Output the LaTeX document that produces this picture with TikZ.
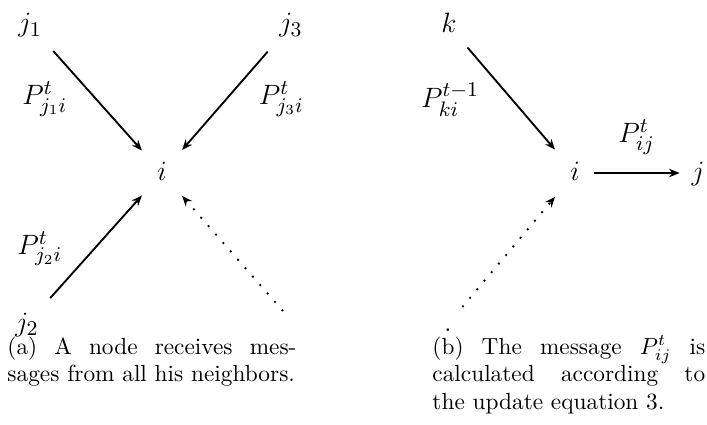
\documentclass[tikz,border=0pt]{standalone}
\usepackage{tikz}
\usetikzlibrary{positioning,arrows.meta}

\begin{document}
\begin{tikzpicture}[x=0.429pt, y=-0.429pt]
      \tikzstyle{vertex} = [on grid, inner sep=0pt, minimum width=15.5pt, minimum height=19pt, text height=8.5pt, text depth=2.5pt, font=\fontsize{12.5}{15}\selectfont]
      \tikzstyle{lbl} = [inner sep=0pt, font=\fontsize{12.5}{15}\selectfont]
      \tikzstyle{msg} = [thick, -{Stealth[length=4.5pt, width=3.6pt]}, shorten <=3pt, shorten >=1pt]
      \tikzstyle{rest} = [msg, loosely dotted]
      \tikzstyle{subcap} = [inner sep=0pt, anchor=base west, align=justify, font=\fontsize{10}{11.8}\selectfont, execute at begin node={\tolerance=10000\baselineskip=11.8pt\relax}]
      \useasboundingbox (0,0) rectangle (707,424);
      % (a) i and its neighbors
      \node[vertex] (I1) at (162,173) {$i$};
      \node[vertex, above left=63.5pt and 56.6pt of I1] (J1) {$j_1$};
      \node[vertex, above right=63.5pt and 55.3pt of I1] (J3) {$j_3$};
      \node[vertex, below left=64.8pt and 57.9pt of I1] (J2) {$j_2$};
      \coordinate[on grid, below right=59.2pt and 51.9pt of I1] (E);
      \draw[msg] (J1) -- node[lbl, left=12pt] {$P^t_{j_1i}$} (I1);
      \draw[msg] (J3) -- node[lbl, right=13.5pt] {$P^t_{j_3i}$} (I1);
      \draw[msg] (J2) -- node[lbl, left=13.5pt] {$P^t_{j_2i}$} (I1);
      \draw[rest, shorten <=0pt] (E) -- (I1);
      % (b) message from i to j
      \node[vertex, right=177.2pt of I1] (I2) {$i$};
      \node[vertex, above left=63.1pt and 54.1pt of I2] (K) {$k$};
      \node[vertex, right=52.8pt of I2] (J) {$j$};
      \node[vertex, minimum width=8pt, minimum height=10pt, below left=64.8pt and 54.5pt of I2] (Dot) {$.$};
      \draw[msg, shorten <=0pt] (K) -- node[lbl, left=13.7pt] {$P^{t-1}_{ki}$} (I2);
      \draw[msg, shorten <=0pt, shorten >=0pt] (I2) -- node[lbl, above=7.7pt] {$P^t_{ij}$} (J);
      \draw[rest] (Dot) -- (I2);
      % captions
      \node[subcap, text width=124pt] (CapA) at (7,354) {(a) A node receives mes-\linebreak sages from all his neighbors.};
      \node[subcap, text width=117pt] (CapB) at (432,354) {(b) The message $P^t_{ij}$ is\linebreak calculated according to\linebreak the update equation 3.};
    \end{tikzpicture}
\end{document}
